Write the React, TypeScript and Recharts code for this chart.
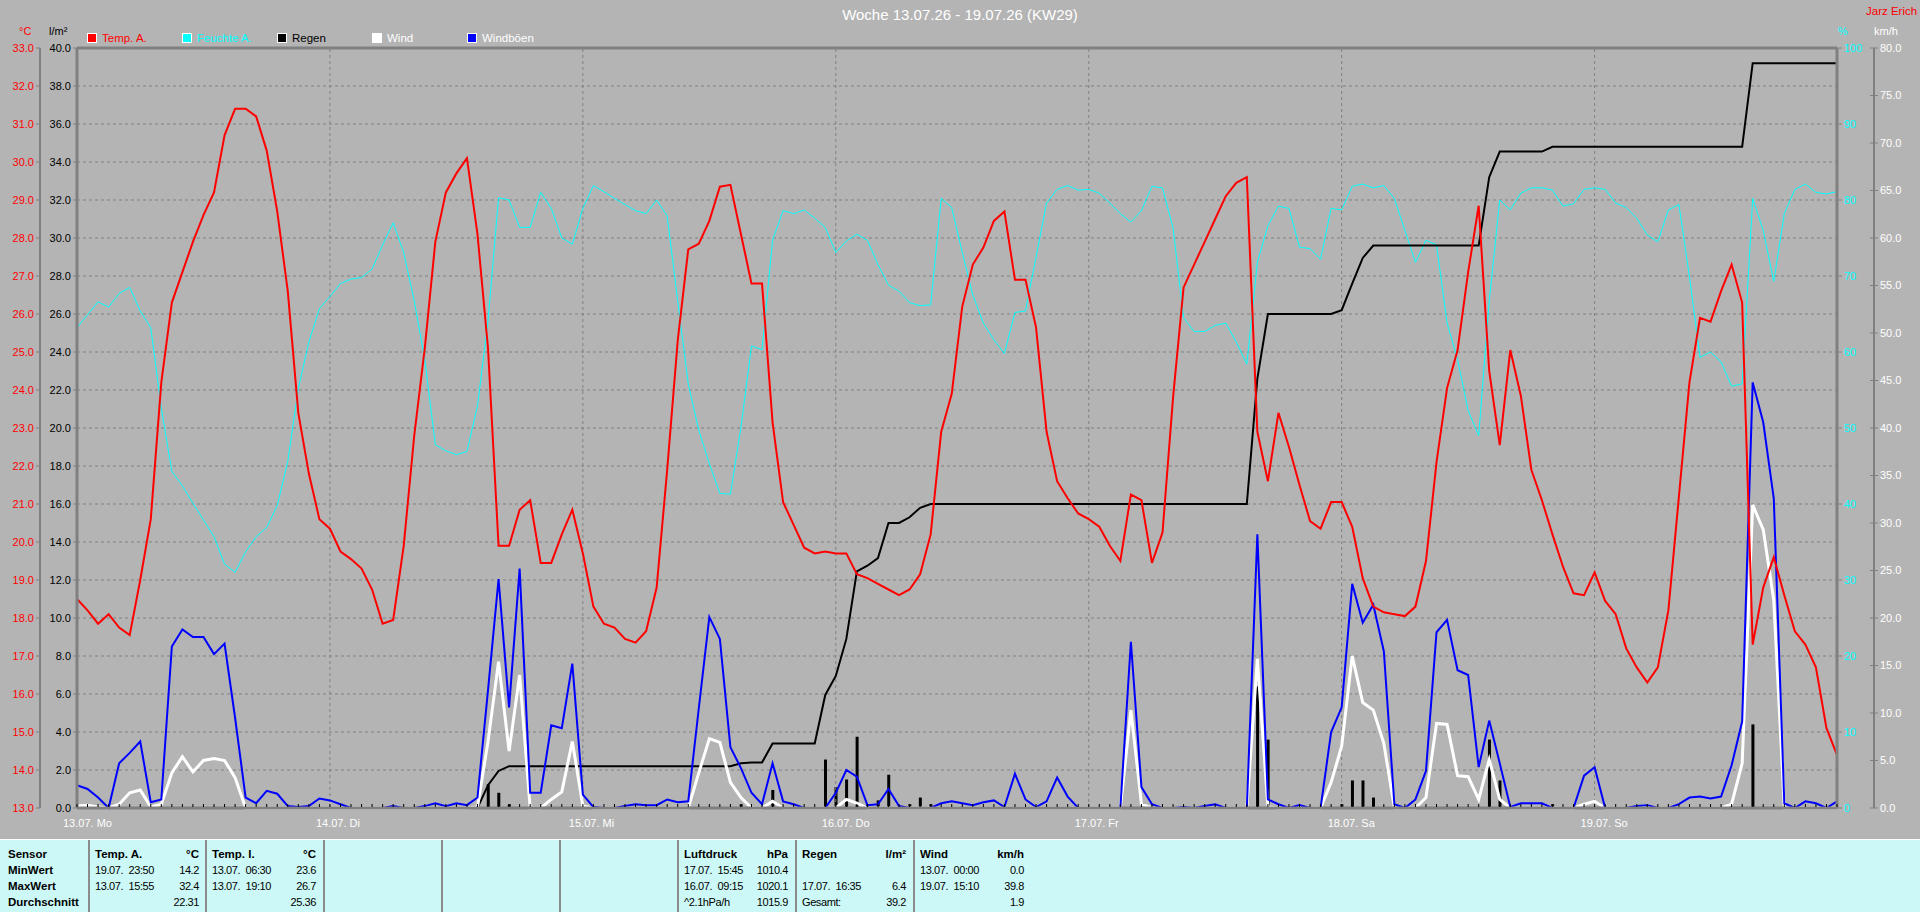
import React from 'react';
import { ComposedChart, Line, Bar, XAxis, YAxis, CartesianGrid, ReferenceLine } from 'recharts';

// Wochenübersicht KW29, Stundenwerte 13.07. 00:00 bis 19.07. 23:00
const dayStarts = [0, 24, 48, 72, 96, 120, 144];
const dayLabels = ['13.07. Mo', '14.07. Di', '15.07. Mi', '16.07. Do', '17.07. Fr', '18.07. Sa', '19.07. So'];

const tempA = [
  18.5, 18.2, 17.85, 18.1, 17.75, 17.55, 19.0, 20.6, 24.2, 26.3, 27.1, 27.9, 28.6, 29.2, 30.7, 31.4, 31.4, 31.2, 30.3, 28.7, 26.6, 23.4, 21.8, 20.6,
  20.35, 19.75, 19.55, 19.3, 18.75, 17.85, 17.95, 19.9, 22.8, 25.1, 27.9, 29.2, 29.7, 30.1, 28.1, 25.1, 19.9, 19.9, 20.85, 21.1, 19.45, 19.45, 20.2, 20.85,
  19.7, 18.3, 17.85, 17.75, 17.45, 17.35, 17.65, 18.8, 21.9, 25.3, 27.7, 27.85, 28.45, 29.35, 29.4, 28.1, 26.8, 26.8, 23.15, 21.05, 20.45, 19.85, 19.7, 19.75,
  19.7, 19.7, 19.15, 19.05, 18.9, 18.75, 18.6, 18.75, 19.15, 20.2, 22.9, 23.9, 26.2, 27.3, 27.75, 28.45, 28.7, 26.9, 26.9, 25.65, 22.9, 21.6, 21.15, 20.75,
  20.6, 20.4, 19.9, 19.5, 21.25, 21.1, 19.45, 20.25, 23.8, 26.7, 27.3, 27.9, 28.5, 29.1, 29.45, 29.6, 22.9, 21.6, 23.4, 22.5, 21.5, 20.55, 20.35, 21.05,
  21.05, 20.4, 19.05, 18.3, 18.15, 18.1, 18.05, 18.3, 19.5, 22.1, 24.05, 25.05, 27.1, 28.85, 24.5, 22.55, 25.05, 23.85, 21.9, 21.1, 20.2, 19.35, 18.65, 18.6,
  19.2, 18.45, 18.1, 17.2, 16.7, 16.3, 16.7, 18.2, 21.2, 24.2, 25.9, 25.8, 26.6, 27.3, 26.3, 17.3, 18.8, 19.6, 18.6, 17.65, 17.3, 16.7, 15.1, 14.4,
];

const feuchteA = [
  63.2, 64.9, 66.6, 65.9, 67.7, 68.5, 65.4, 63.2, 52.6, 44.3, 42.4, 40.1, 37.9, 35.7, 32.1, 31.0, 33.7, 35.7, 36.9, 39.8, 45.6, 55.2, 61.3, 65.7,
  67.3, 69.0, 69.6, 69.8, 70.9, 74.1, 77.0, 73.1, 66.7, 59.0, 47.8, 47.0, 46.5, 46.9, 52.9, 64.1, 80.3, 80.0, 76.4, 76.4, 81.0, 78.9, 75.0, 74.2,
  78.9, 81.9, 81.1, 80.2, 79.4, 78.6, 78.2, 80.0, 77.9, 66.7, 55.8, 49.7, 45.3, 41.4, 41.3, 50.1, 60.8, 60.3, 74.7, 78.6, 78.2, 78.7, 77.6, 76.4,
  73.1, 74.6, 75.5, 74.7, 71.5, 68.8, 68.0, 66.5, 66.1, 66.2, 80.2, 79.0, 73.1, 67.5, 63.8, 61.6, 59.8, 65.2, 65.4, 72.5, 79.6, 81.4, 81.9, 81.3,
  81.4, 80.9, 79.6, 78.2, 77.1, 78.6, 81.8, 81.6, 76.3, 64.5, 62.7, 62.7, 63.5, 63.8, 61.3, 58.4, 71.8, 76.6, 79.2, 78.9, 73.8, 73.6, 72.2, 78.9,
  78.7, 81.8, 82.1, 81.6, 81.9, 80.2, 76.0, 71.8, 74.7, 74.1, 63.8, 59.0, 52.3, 49.0, 66.7, 80.0, 78.7, 80.9, 81.6, 81.6, 81.3, 79.2, 79.5, 81.4,
  81.6, 81.4, 79.6, 79.0, 77.6, 75.4, 74.5, 78.7, 79.4, 69.9, 59.3, 60.0, 58.7, 55.5, 55.8, 80.2, 76.0, 69.3, 78.2, 81.4, 82.1, 81.0, 80.8, 81.1,
];

// Regen kumuliert (l/m²)
const regenSumme = [
  0, 0, 0, 0, 0, 0, 0, 0, 0, 0, 0, 0, 0, 0, 0, 0, 0, 0, 0, 0, 0, 0, 0, 0,
  0, 0, 0, 0, 0, 0, 0, 0, 0, 0, 0, 0, 0, 0, 0, 1.2, 1.95, 2.2, 2.2, 2.2, 2.2, 2.2, 2.2, 2.2,
  2.2, 2.2, 2.2, 2.2, 2.2, 2.2, 2.2, 2.2, 2.2, 2.2, 2.2, 2.2, 2.2, 2.2, 2.2, 2.35, 2.4, 2.4, 3.4, 3.4, 3.4, 3.4, 3.4, 5.95,
  6.95, 8.9, 12.45, 12.75, 13.15, 15.0, 15.0, 15.3, 15.8, 16.0, 16.0, 16.0, 16.0, 16.0, 16.0, 16.0, 16.0, 16.0, 16.0, 16.0, 16.0, 16.0, 16.0, 16.0,
  16.0, 16.0, 16.0, 16.0, 16.0, 16.0, 16.0, 16.0, 16.0, 16.0, 16.0, 16.0, 16.0, 16.0, 16.0, 16.0, 22.6, 26.0, 26.0, 26.0, 26.0, 26.0, 26.0, 26.0,
  26.2, 27.6, 28.95, 29.6, 29.6, 29.6, 29.6, 29.6, 29.6, 29.6, 29.6, 29.6, 29.6, 29.6, 33.2, 34.55, 34.55, 34.55, 34.55, 34.55, 34.8, 34.8, 34.8, 34.8,
  34.8, 34.8, 34.8, 34.8, 34.8, 34.8, 34.8, 34.8, 34.8, 34.8, 34.8, 34.8, 34.8, 34.8, 34.8, 39.2, 39.2, 39.2, 39.2, 39.2, 39.2, 39.2, 39.2, 39.2,
];

// Regen je Stunde (nur Stunden mit Niederschlag)
const regenStunden = [39, 40, 41, 63, 66, 71, 72, 73, 74, 75, 76, 77, 79, 80, 81, 112, 113, 120, 121, 122, 123, 134, 135, 140, 159];
const regenMengen = [1.25, 0.8, 0.2, 0.2, 0.95, 2.55, 1.1, 1.5, 3.75, 0.2, 0.4, 1.75, 0.2, 0.55, 0.2, 6.4, 3.6, 0.2, 1.45, 1.45, 0.55, 3.6, 1.45, 0.2, 4.4];

const wind = [
  0.2, 0.3, 0.1, 0, 0.4, 1.6, 1.9, 0.1, 0.4, 3.7, 5.4, 3.8, 5.0, 5.2, 5.0, 3.2, 0, 0, 0, 0, 0, 0, 0, 0,
  0, 0, 0, 0, 0, 0, 0, 0, 0, 0, 0, 0, 0, 0, 0.1, 7.0, 15.4, 6.0, 14.0, 0, 0, 0.9, 1.7, 7.0,
  0.2, 0, 0, 0, 0, 0, 0, 0, 0, 0, 0, 3.7, 7.3, 6.9, 2.7, 1.1, 0, 0, 0.7, 0, 0, 0, 0, 0,
  0, 0.9, 0.5, 0, 0, 0, 0, 0, 0, 0, 0, 0, 0, 0, 0, 0, 0, 0, 0, 0, 0, 0, 0, 0,
  0, 0, 0, 0, 10.3, 0.4, 0, 0, 0, 0, 0, 0, 0, 0, 0, 0, 15.7, 0.1, 0, 0, 0, 0, 0, 2.7,
  6.5, 16.0, 11.1, 10.3, 6.8, 0, 0, 0, 1.1, 8.9, 8.8, 3.4, 3.3, 0.9, 5.1, 0.9, 0, 0, 0, 0, 0, 0, 0, 0.4,
  0.7, 0, 0, 0, 0, 0, 0, 0, 0, 0, 0, 0, 0, 0.4, 4.7, 31.9, 29.3, 21.9, 0, 0, 0, 0, 0, 0,
];

const windboeen = [
  2.4, 2.0, 1.1, 0, 4.7, 5.8, 7.0, 0.6, 0.9, 17.0, 18.8, 18.0, 18.0, 16.2, 17.3, 9.5, 1.1, 0.5, 1.8, 1.5, 0.2, 0.1, 0.2, 1.0,
  0.8, 0.4, 0, 0, 0, 0, 0.2, 0, 0, 0.2, 0.5, 0.2, 0.5, 0.3, 1.1, 12.4, 24.1, 10.6, 25.2, 1.6, 1.6, 8.7, 8.4, 15.2,
  1.4, 0.1, 0, 0, 0.2, 0.4, 0.3, 0.3, 0.9, 0.6, 0.7, 10.5, 20.1, 17.8, 6.4, 4.2, 1.6, 0.4, 4.7, 0.7, 0.4, 0, 0, 0,
  1.6, 4.0, 3.3, 0.3, 0.4, 2.0, 0.2, 0, 0, 0, 0.5, 0.7, 0.5, 0.3, 0.6, 0.8, 0.1, 3.6, 0.9, 0.1, 0.7, 3.2, 1.2, 0,
  0, 0, 0, 0, 17.5, 2.2, 0.4, 0, 0, 0.1, 0, 0.2, 0.4, 0, 0, 0, 28.8, 0.9, 0.4, 0, 0.3, 0, 0, 8.0,
  10.6, 23.6, 19.5, 21.4, 16.5, 0.4, 0, 0.9, 3.9, 18.5, 19.8, 14.5, 14.0, 4.3, 9.2, 4.7, 0.1, 0.5, 0.5, 0.5, 0, 0, 0, 3.4,
  4.3, 0, 0, 0, 0.2, 0.3, 0, 0, 0.4, 1.1, 1.2, 1.0, 1.2, 4.5, 9.1, 44.8, 40.6, 32.6, 0.5, 0, 0.7, 0.5, 0, 0.7,
];

const tempTicks = [13, 14, 15, 16, 17, 18, 19, 20, 21, 22, 23, 24, 25, 26, 27, 28, 29, 30, 31, 32, 33];
const regenTicks = [0, 2, 4, 6, 8, 10, 12, 14, 16, 18, 20, 22, 24, 26, 28, 30, 32, 34, 36, 38, 40];
const feuchteTicks = [0, 10, 20, 30, 40, 50, 60, 70, 80, 90, 100];
const windTicks = [0, 5, 10, 15, 20, 25, 30, 35, 40, 45, 50, 55, 60, 65, 70, 75, 80];
const hourTicks = tempA.map((_, i) => i);

const data = tempA.map((t, i) => {
  const k = regenStunden.indexOf(i);
  return {
    h: i,
    temp: t,
    feuchte: feuchteA[i],
    summe: regenSumme[i],
    regen: k >= 0 ? regenMengen[k] : 0,
    wind: wind[i],
    boeen: windboeen[i],
  };
});

const FONT = '"Liberation Sans", Arial, sans-serif';
const GRAY = '#808080';

function HourTick(props: any) {
  const { x, y, payload } = props;
  const idx = dayStarts.indexOf(payload.value);
  return (
    <g>
      <line x1={x} x2={x} y1={y - 4} y2={y - 1} stroke="#000" />
      {idx >= 0 && (
        <text x={x - 14} y={y + 19} fill="#fff" fontSize={11} fontFamily={FONT}>
          {dayLabels[idx]}
        </text>
      )}
    </g>
  );
}

function LeftTick(props: any) {
  const { x, y, payload, color } = props;
  return (
    <g>
      <line x1={x - 4} x2={x} y1={y} y2={y} stroke={GRAY} />
      <text x={x - 6} y={y} dy="0.36em" textAnchor="end" fill={color} fontSize={11} fontFamily={FONT}>
        {payload.value.toFixed(1)}
      </text>
    </g>
  );
}

function FeuchteTick(props: any) {
  const { x, y, payload } = props;
  return (
    <g>
      <line x1={x} x2={x + 5} y1={y} y2={y} stroke={GRAY} />
      <text x={x + 7} y={y} dy="0.36em" fill="#00ffff" fontSize={11} fontFamily={FONT}>
        {payload.value}
      </text>
    </g>
  );
}

function WindTick(props: any) {
  const { x, y, payload } = props;
  return (
    <g>
      <line x1={x - 4} x2={x + 4} y1={y} y2={y} stroke={GRAY} />
      <text x={x + 6} y={y} dy="0.36em" fill="#fff" fontSize={11} fontFamily={FONT}>
        {payload.value.toFixed(1)}
      </text>
    </g>
  );
}

const legendItems = [
  { label: 'Temp. A.', color: '#ff0000', text: '#ff0000' },
  { label: 'Feuchte A.', color: '#00ffff', text: '#00ffff' },
  { label: 'Regen', color: '#000000', text: '#000000' },
  { label: 'Wind', color: '#ffffff', text: '#ffffff' },
  { label: 'Windböen', color: '#0000ff', text: '#ffffff' },
];

const tableCols = [
  { x: 88, head: ['Temp. A.', '°C'], rows: [['19.07.  23:50', '14.2'], ['13.07.  15:55', '32.4'], ['', '22.31']] },
  { x: 205, head: ['Temp. I.', '°C'], rows: [['13.07.  06:30', '23.6'], ['13.07.  19:10', '26.7'], ['', '25.36']] },
  { x: 323, head: ['', ''], rows: [] },
  { x: 441, head: ['', ''], rows: [] },
  { x: 559, head: ['', ''], rows: [] },
  { x: 677, head: ['Luftdruck', 'hPa'], rows: [['17.07.  15:45', '1010.4'], ['16.07.  09:15', '1020.1'], ['^2.1hPa/h', '1015.9']] },
  { x: 795, head: ['Regen', 'l/m²'], rows: [['', ''], ['17.07.  16:35', '6.4'], ['Gesamt:', '39.2']] },
  { x: 913, head: ['Wind', 'km/h'], rows: [['13.07.  00:00', '0.0'], ['19.07.  15:10', '39.8'], ['', '1.9']] },
];
const rowLabels = ['Sensor', 'MinWert', 'MaxWert', 'Durchschnitt'];
const rowTops = [845, 861, 877, 893];

function abs(left: number, top: number, extra: React.CSSProperties = {}): React.CSSProperties {
  return { position: 'absolute', left, top, whiteSpace: 'pre', fontFamily: FONT, ...extra };
}

const headStyle: React.CSSProperties = { fontSize: 11.5, fontWeight: 'bold', lineHeight: '16px', color: '#000' };
const cellStyle: React.CSSProperties = { fontSize: 11, lineHeight: '16px', letterSpacing: '-0.4px', color: '#000' };

export default function App() {
  return (
    <div style={{ position: 'absolute', left: 0, top: 0, width: 1920, height: 912, background: '#b4b4b4', overflow: 'hidden' }}>
      <div style={abs(0, 6, { width: 1920, textAlign: 'center', color: '#fff', fontSize: 15 })}>
        Woche 13.07.26 - 19.07.26 (KW29)
      </div>
      <div style={abs(1866, 5, { color: '#ff0000', fontSize: 11.5 })}>Jarz Erich</div>
      <div style={abs(19, 25, { color: '#ff0000', fontSize: 11 })}>°C</div>
      <div style={abs(49, 25, { color: '#000', fontSize: 11 })}>l/m²</div>
      <div style={abs(1838, 25, { color: '#00ffff', fontSize: 11 })}>%</div>
      <div style={abs(1874, 25, { color: '#fff', fontSize: 11 })}>km/h</div>

      {legendItems.map((it, i) => (
        <div key={it.label} style={abs(87 + i * 95, 32, { display: 'flex', alignItems: 'center', fontSize: 11.5 })}>
          <span style={{ width: 8, height: 8, border: '1px solid #fff', background: it.color, display: 'inline-block' }} />
          <span style={{ marginLeft: 5, color: it.text }}>{it.label}</span>
        </div>
      ))}

      <div style={abs(0, 0)}>
        <ComposedChart width={1920} height={839} data={data} margin={{ top: 48, right: 0, bottom: 0, left: 0 }}>
          <CartesianGrid yAxisId="regen" vertical={false} stroke={GRAY} strokeDasharray="3 3" />
          <XAxis
            dataKey="h"
            type="number"
            domain={[0, 167]}
            ticks={hourTicks}
            interval={0}
            tick={<HourTick />}
            tickLine={false}
            tickSize={0}
            tickMargin={0}
            axisLine={{ stroke: GRAY, strokeWidth: 3 }}
            height={31}
          />
          <YAxis
            yAxisId="regen"
            orientation="left"
            width={37}
            domain={[0, 40]}
            ticks={regenTicks}
            interval={0}
            tick={<LeftTick color="#000" />}
            tickLine={false}
            tickSize={0}
            tickMargin={0}
            axisLine={{ stroke: GRAY, strokeWidth: 3 }}
          />
          <YAxis
            yAxisId="temp"
            orientation="left"
            width={40}
            domain={[13, 33]}
            ticks={tempTicks}
            interval={0}
            tick={<LeftTick color="#ff0000" />}
            tickLine={false}
            tickSize={0}
            tickMargin={0}
            axisLine={{ stroke: GRAY, strokeWidth: 2 }}
          />
          <YAxis
            yAxisId="feuchte"
            orientation="right"
            width={37}
            domain={[0, 100]}
            ticks={feuchteTicks}
            interval={0}
            tick={<FeuchteTick />}
            tickLine={false}
            tickSize={0}
            tickMargin={0}
            axisLine={{ stroke: GRAY, strokeWidth: 3 }}
          />
          <YAxis
            yAxisId="wind"
            orientation="right"
            width={46}
            domain={[0, 80]}
            ticks={windTicks}
            interval={0}
            tick={<WindTick />}
            tickLine={false}
            tickSize={0}
            tickMargin={0}
            axisLine={{ stroke: GRAY, strokeWidth: 2 }}
          />
          {dayStarts.slice(1).map((d) => (
            <ReferenceLine key={d} x={d} yAxisId="regen" stroke={GRAY} strokeDasharray="3 3" />
          ))}
          <ReferenceLine y={40} yAxisId="regen" stroke={GRAY} strokeWidth={3} />

          <Line yAxisId="feuchte" dataKey="feuchte" type="linear" stroke="#00ffff" strokeWidth={1} dot={false} isAnimationActive={false} />
          <Line yAxisId="regen" dataKey="summe" type="linear" stroke="#000000" strokeWidth={2} dot={false} isAnimationActive={false} />
          <Bar yAxisId="regen" dataKey="regen" fill="#000000" barSize={3} isAnimationActive={false} />
          <Line yAxisId="wind" dataKey="wind" type="linear" stroke="#ffffff" strokeWidth={3} dot={false} isAnimationActive={false} />
          <Line yAxisId="wind" dataKey="boeen" type="linear" stroke="#0000ff" strokeWidth={2} dot={false} isAnimationActive={false} />
          <Line yAxisId="temp" dataKey="temp" type="linear" stroke="#ff0000" strokeWidth={2} dot={false} isAnimationActive={false} />
        </ComposedChart>
      </div>

      <div style={{ position: 'absolute', left: 0, top: 839, width: 1920, height: 73, background: '#ccf9f7', borderTop: '1px solid #fff', boxSizing: 'border-box' }}>
        {rowLabels.map((r, i) => (
          <div key={r} style={abs(8, rowTops[i] - 839, headStyle)}>{r}</div>
        ))}
        {tableCols.map((c) => (
          <React.Fragment key={c.x}>
            <div style={{ position: 'absolute', left: c.x, top: 0, width: 2, height: 73, background: '#8c8c8c' }} />
            <div style={abs(c.x + 7, rowTops[0] - 839, headStyle)}>{c.head[0]}</div>
            <div style={abs(c.x + 7, rowTops[0] - 839, { ...headStyle, width: 104, textAlign: 'right' })}>{c.head[1]}</div>
            {c.rows.map((r, i) => (
              <React.Fragment key={i}>
                <div style={abs(c.x + 7, rowTops[i + 1] - 839, cellStyle)}>{r[0]}</div>
                <div style={abs(c.x + 7, rowTops[i + 1] - 839, { ...cellStyle, width: 104, textAlign: 'right' })}>{r[1]}</div>
              </React.Fragment>
            ))}
          </React.Fragment>
        ))}
      </div>
    </div>
  );
}
